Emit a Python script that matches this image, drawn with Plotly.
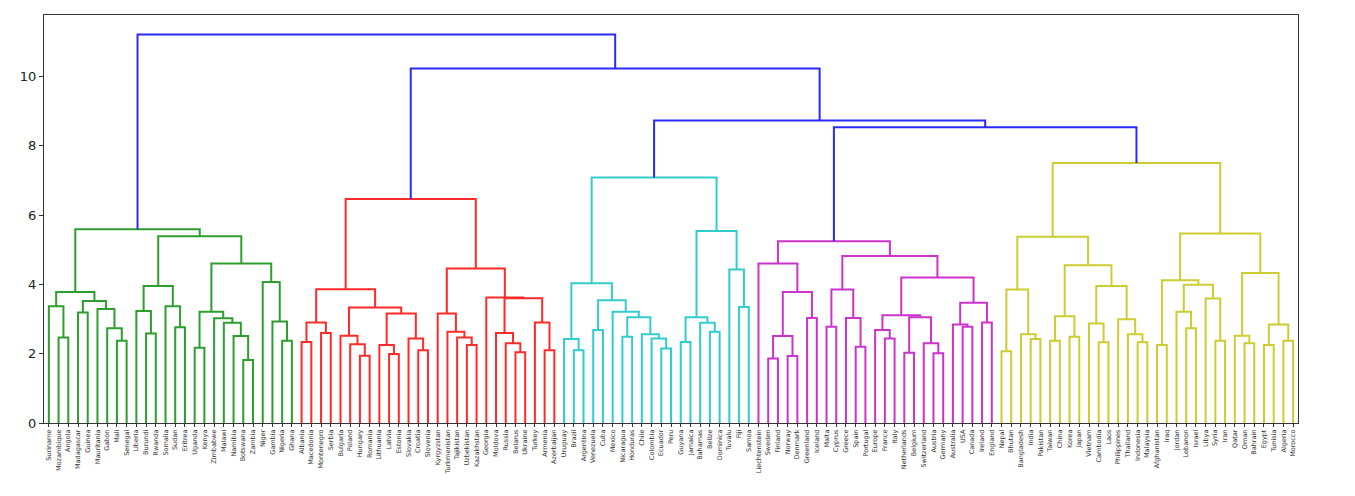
import plotly.graph_objects as go

# ---------------- data ----------------
green_labels = ["Suriname", "Mozambique", "Angola", "Madagascar", "Guinea", "Mauritania", "Gabon", "Mali",
                "Senegal", "Liberia", "Burundi", "Rwanda", "Somalia", "Sudan", "Eritrea", "Uganda", "Kenya",
                "Zimbabwe", "Malawi", "Namibia", "Botswana", "Zambia", "Niger", "Gambia", "Nigeria", "Ghana"]
red_labels = ["Albania", "Macedonia", "Montenegro", "Serbia", "Bulgaria", "Poland", "Hungary", "Romania",
              "Lithuania", "Latvia", "Estonia", "Slovakia", "Croatia", "Slovenia", "Kyrgyzstan", "Turkmenistan",
              "Tajikistan", "Uzbekistan", "Kazakhstan", "Georgia", "Moldova", "Russia", "Belarus", "Ukraine",
              "Turkey", "Armenia", "Azerbaijan"]
cyan_labels = ["Uruguay", "Brazil", "Argentina", "Venezuela", "Cuba", "Mexico", "Nicaragua", "Honduras", "Chile",
               "Colombia", "Ecuador", "Peru", "Guyana", "Jamaica", "Bahamas", "Belize", "Dominica", "Tuvalu",
               "Fiji", "Samoa"]
magenta_labels = ["Liechtenstein", "Sweden", "Finland", "Norway", "Denmark", "Greenland", "Iceland", "Malta",
                  "Cyprus", "Greece", "Spain", "Portugal", "Europe", "France", "Italy", "Netherlands", "Belgium",
                  "Switzerland", "Austria", "Germany", "Australia", "USA", "Canada", "Ireland", "England"]
yellow_labels = ["Nepal", "Bhutan", "Bangladesh", "India", "Pakistan", "Taiwan", "China", "Korea", "Japan",
                 "Vietnam", "Cambodia", "Laos", "Philippines", "Thailand", "Indonesia", "Malaysia", "Afghanistan",
                 "Iraq", "Jordan", "Lebanon", "Israel", "Libya", "Syria", "Iran", "Qatar", "Oman", "Bahrain",
                 "Egypt", "Tunisia", "Algeria", "Morocco"]

# merges: (first leaf, first leaf of right child, end leaf (exclusive), height)
green_merges = [(1, 2, 3, 2.47), (0, 1, 3, 3.37), (7, 8, 9, 2.37), (6, 7, 9, 2.73), (5, 6, 9, 3.29),
                (3, 4, 5, 3.19), (3, 5, 9, 3.52), (0, 3, 9, 3.78), (10, 11, 12, 2.58), (9, 10, 12, 3.23),
                (13, 14, 15, 2.76), (12, 13, 15, 3.37), (9, 12, 15, 3.95), (15, 16, 17, 2.17),
                (20, 21, 22, 1.82), (19, 20, 22, 2.51), (18, 19, 22, 2.89), (17, 18, 22, 3.02),
                (15, 17, 22, 3.21), (24, 25, 26, 2.37), (23, 24, 26, 2.93), (22, 23, 26, 4.07),
                (15, 22, 26, 4.60), (9, 15, 26, 5.39), (0, 9, 26, 5.59)]
red_merges = [(26, 27, 28, 2.34), (28, 29, 30, 2.60), (26, 28, 30, 2.90), (32, 33, 34, 1.94),
              (31, 32, 34, 2.27), (30, 31, 34, 2.52), (35, 36, 37, 1.99), (34, 35, 37, 2.25),
              (38, 39, 40, 2.10), (37, 38, 40, 2.44), (34, 37, 40, 3.16), (30, 34, 40, 3.33),
              (26, 30, 40, 3.86), (43, 44, 45, 2.25), (42, 43, 45, 2.47), (41, 42, 45, 2.63),
              (40, 41, 45, 3.16), (48, 49, 50, 2.04), (47, 48, 50, 2.30), (46, 47, 50, 2.60),
              (51, 52, 53, 2.10), (50, 51, 53, 2.90), (46, 50, 53, 3.60), (45, 46, 53, 3.62),
              (40, 45, 53, 4.46), (26, 40, 53, 6.46)]
cyan_merges = [(54, 55, 56, 2.10), (53, 54, 56, 2.42), (56, 57, 58, 2.68), (59, 60, 61, 2.49),
               (63, 64, 65, 2.15), (62, 63, 65, 2.44), (61, 62, 65, 2.56), (59, 61, 65, 3.05),
               (58, 59, 65, 3.21), (56, 58, 65, 3.54), (53, 56, 65, 4.03), (65, 66, 67, 2.34),
               (68, 69, 70, 2.63), (67, 68, 70, 2.89), (65, 67, 70, 3.05), (71, 72, 73, 3.35),
               (70, 71, 73, 4.43), (65, 70, 73, 5.54), (53, 65, 73, 7.08)]
magenta_merges = [(74, 75, 76, 1.86), (76, 77, 78, 1.93), (74, 76, 78, 2.51), (78, 79, 80, 3.03),
                  (74, 78, 80, 3.78), (73, 74, 80, 4.60), (80, 81, 82, 2.78), (83, 84, 85, 2.20),
                  (82, 83, 85, 3.03), (80, 82, 85, 3.85), (86, 87, 88, 2.44), (85, 86, 88, 2.68),
                  (88, 89, 90, 2.03), (91, 92, 93, 2.01), (90, 91, 93, 2.30), (88, 90, 93, 3.05),
                  (85, 88, 93, 3.11), (94, 95, 96, 2.78), (93, 94, 96, 2.84), (96, 97, 98, 2.90),
                  (93, 96, 98, 3.47), (85, 93, 98, 4.20), (80, 85, 98, 4.82), (73, 80, 98, 5.24)]
yellow_merges = [(98, 99, 100, 2.07), (101, 102, 103, 2.42), (100, 101, 103, 2.56), (98, 100, 103, 3.85),
                 (103, 104, 105, 2.37), (105, 106, 107, 2.49), (103, 105, 107, 3.08), (108, 109, 110, 2.33),
                 (107, 108, 110, 2.87), (112, 113, 114, 2.33), (111, 112, 114, 2.56), (110, 111, 114, 2.99),
                 (107, 110, 114, 3.95), (103, 107, 114, 4.55), (98, 103, 114, 5.37), (114, 115, 116, 2.25),
                 (117, 118, 119, 2.73), (116, 117, 119, 3.21), (120, 121, 122, 2.37), (119, 120, 122, 3.59),
                 (116, 119, 122, 3.99), (114, 116, 122, 4.12), (123, 124, 125, 2.30), (122, 123, 125, 2.52),
                 (125, 126, 127, 2.25), (127, 128, 129, 2.37), (125, 127, 129, 2.84), (122, 125, 129, 4.33),
                 (114, 122, 129, 5.47), (98, 114, 129, 7.50)]
top_merges = [(73, 98, 129, 8.53), (53, 73, 129, 8.73), (26, 53, 129, 10.23), (0, 26, 129, 11.21)]

y_ticks = [0, 2, 4, 6, 8, 10]

# ---------------- build ----------------
groups = [
    (green_labels, green_merges, "#2e9e2e"),
    (red_labels, red_merges, "#ff2a2a"),
    (cyan_labels, cyan_merges, "#33cccc"),
    (magenta_labels, magenta_merges, "#cc33cc"),
    (yellow_labels, yellow_merges, "#cccc33"),
    ([], top_merges, "#2a2aff"),
]
labels = []
for lab, _, _ in groups:
    labels += lab
n = len(labels)

nodes = {(i, i + 1): (5 + 10 * i, 0.0) for i in range(n)}
all_merges = []
for _, merges, color in groups:
    for m in merges:
        all_merges.append((m, color))
all_merges.sort(key=lambda t: t[0][3])

traces = {}
for (s, k, e, h), color in all_merges:
    xl, hl = nodes[(s, k)]
    xr, hr = nodes[(k, e)]
    nodes[(s, e)] = ((xl + xr) / 2, h)
    xs, ys = traces.setdefault(color, ([], []))
    xs += [xl, xl, xr, xr, None]
    ys += [hl, h, h, hr, None]

fig = go.Figure()
for _, _, color in groups:
    xs, ys = traces[color]
    fig.add_trace(go.Scatter(x=xs, y=ys, mode="lines", line=dict(color=color, width=2),
                             hoverinfo="skip", showlegend=False))

ymax = max(m[3] for m in top_merges) * 1.05
fig.update_layout(
    width=1347, height=488,
    margin=dict(l=36, r=57, t=7, b=73),
    plot_bgcolor="white", paper_bgcolor="white",
    font=dict(family="DejaVu Sans", color="#222"),
    xaxis=dict(range=[0, 10 * n], tickvals=[5 + 10 * i for i in range(n)], ticktext=labels,
               tickangle=-90, tickfont=dict(size=6.5, color="#333"), ticks="outside", ticklen=3,
               tickcolor="#333", showgrid=False, zeroline=False, showline=True, linecolor="#333",
               linewidth=1, mirror=True, automargin=False),
    yaxis=dict(range=[0, ymax], tickvals=y_ticks, tickfont=dict(size=13, color="#222"),
               ticks="outside", ticklen=4, tickcolor="#333", showgrid=False, zeroline=False,
               showline=True, linecolor="#333", linewidth=1, mirror=True, automargin=False),
)
fig.write_html("out.html")
